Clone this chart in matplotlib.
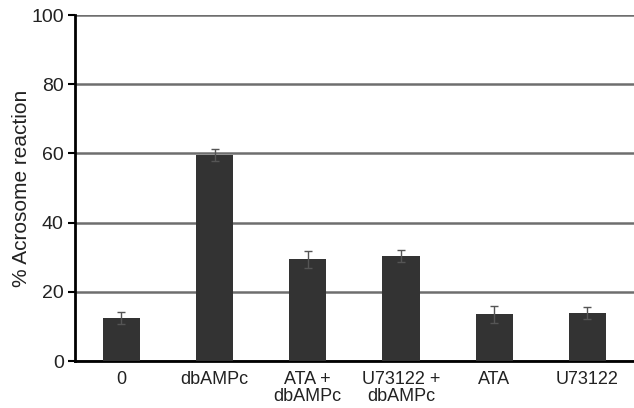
import numpy as np
import matplotlib.pyplot as plt

plt.rcParams['font.family'] = ['Liberation Sans', 'DejaVu Sans']

# --- 数据 ---
categories = ['0', 'dbAMPc', 'ATA +\ndbAMPc', 'U73122 +\ndbAMPc', 'ATA', 'U73122']
means = [12.5, 59.5, 29.4, 30.3, 13.5, 13.8]
errors = [1.8, 1.8, 2.5, 1.8, 2.5, 1.7]

fig = plt.figure(figsize=(6.34, 4.08), dpi=100)
ax = fig.add_axes([0.118, 0.115, 0.882, 0.848])

x = np.arange(len(categories))
ax.bar(x, means, width=0.4, color='#333333', zorder=3,
       yerr=errors, capsize=3,
       error_kw=dict(ecolor='#555555', elinewidth=1, capthick=1))

# 水平网格线
ax.set_ylim(0, 100)
ax.set_xlim(-0.5, len(categories) - 0.5)
ax.set_yticks(np.arange(0, 101, 20))
ax.yaxis.grid(True, color='#6e6e6e', linewidth=1.8, zorder=0)
ax.set_axisbelow(True)

ax.set_xticks(x)
ax.set_xticklabels(categories, fontsize=13, linespacing=1.05, color='#222222')
ax.tick_params(axis='x', length=0, pad=7)
ax.tick_params(axis='y', labelsize=14, labelcolor='#222222', length=5, width=1.5,
               direction='out', pad=3)

for side in ['top', 'right']:
    ax.spines[side].set_visible(False)
ax.spines['left'].set_linewidth(2)
ax.spines['bottom'].set_linewidth(2)

ax.set_ylabel('% Acrosome reaction', fontsize=15, color='#222222', labelpad=0)

fig.savefig('out.png', dpi=100)
